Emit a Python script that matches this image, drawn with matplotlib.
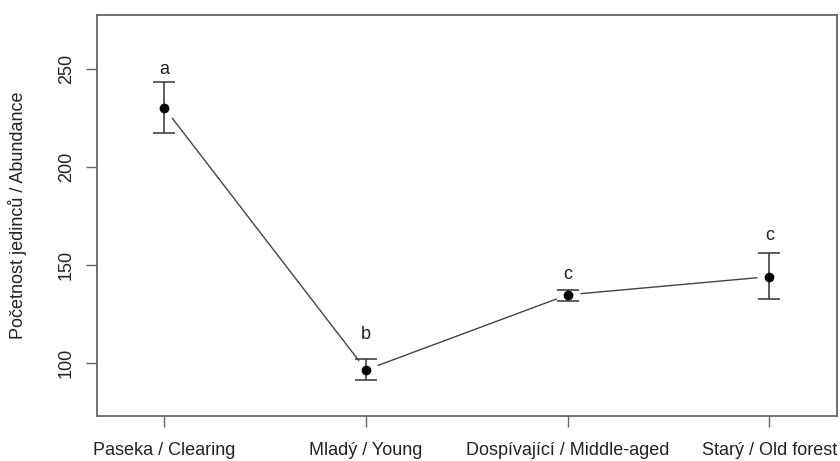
import matplotlib.pyplot as plt

# Data
categories = ['Paseka / Clearing', 'Mladý / Young',
              'Dospívající / Middle-aged', 'Starý / Old forest']
means = [230.4, 96.3, 134.7, 144.0]
upper = [243.5, 101.7, 137.2, 156.0]
lower = [217.6, 91.2, 131.6, 132.5]
letters = ['a', 'b', 'c', 'c']
letter_y = [250.0, 114.2, 144.9, 164.8]
yticks = [100, 150, 200, 250]

plt.rcParams['font.family'] = ['Liberation Sans', 'DejaVu Sans']

fig = plt.figure(figsize=(8.4, 4.61), dpi=100)
ax = fig.add_axes([0.1155, 0.0983, 0.8805, 0.8692])

x = list(range(1, len(categories) + 1))
err_lo = [m - l for m, l in zip(means, lower)]
err_hi = [u - m for m, u in zip(means, upper)]

# line with gaps around points (like R type="b")
ax.plot(x, means, color='#444444', linewidth=1.0, zorder=1)
ax.plot(x, means, linestyle='none', marker='o', markersize=16.5,
        markerfacecolor='white', markeredgecolor='white', zorder=2)
ax.errorbar(x, means, yerr=[err_lo, err_hi], fmt='none', ecolor='#333333',
            elinewidth=1.1, capsize=8, capthick=1.1, zorder=3)
ax.plot(x, means, linestyle='none', marker='o', markersize=6,
        color='black', zorder=4)

for xi, yi, t in zip(x, letter_y, letters):
    ax.text(xi, yi, t, ha='center', va='center', fontsize=13, color='#222222')

ax.set_xlim(0.667, 4.333)
ax.set_ylim(72.9, 277.8)
ax.set_xticks(x)
ax.set_xticklabels(categories, fontsize=13, color='#222222')
ax.set_yticks(yticks)
ax.set_yticklabels([str(v) for v in yticks], fontsize=13, color='#222222',
                   rotation=90, va='center')
ax.set_ylabel('Početnost jedinců / Abundance', fontsize=13, color='#222222',
              labelpad=22)

for s in ax.spines.values():
    s.set_color('#666666')
    s.set_linewidth(1.3)
ax.tick_params(axis='both', length=8, width=1.0, color='#666666')
ax.tick_params(axis='x', pad=11)
ax.tick_params(axis='y', pad=8)

fig.savefig('out.png', dpi=100)
